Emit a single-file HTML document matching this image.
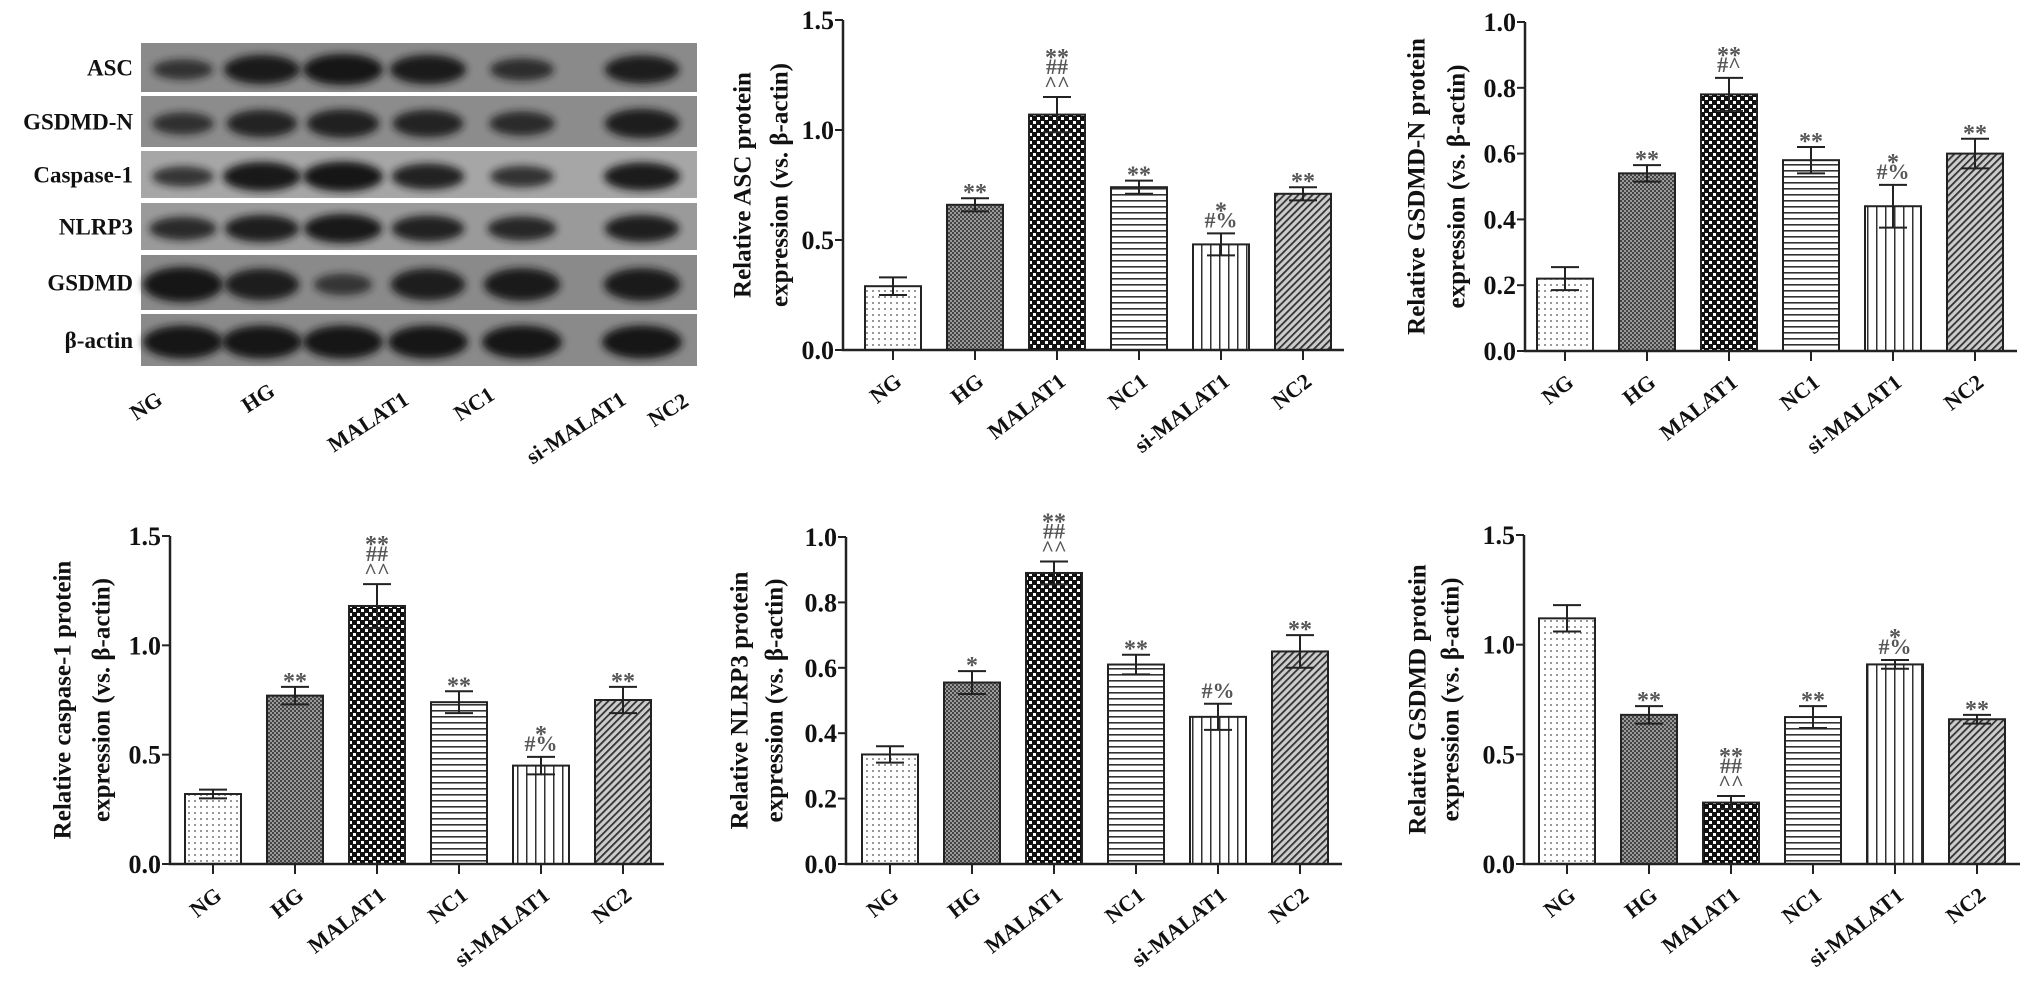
<!DOCTYPE html>
<html><head><meta charset="utf-8"><style>
html,body{margin:0;padding:0;background:#fff;}
svg{display:block;font-family:"Liberation Serif",serif;}
</style></head><body>
<svg id="fig" width="2031" height="989" viewBox="0 0 2031 989" xmlns="http://www.w3.org/2000/svg">
<defs>
<pattern id="pDots" width="6" height="6" patternUnits="userSpaceOnUse"><rect width="6" height="6" fill="#fff"/><circle cx="3" cy="3" r="1" fill="#777"/></pattern>
<pattern id="pFine" width="4" height="4" patternUnits="userSpaceOnUse"><rect width="4" height="4" fill="#999"/><rect width="2" height="2" fill="#444"/><rect x="2" y="2" width="2" height="2" fill="#444"/></pattern>
<pattern id="pCheck" width="8" height="8" patternUnits="userSpaceOnUse"><rect width="8" height="8" fill="#111"/><rect x="1" y="1" width="3" height="3" fill="#fff"/><rect x="5" y="5" width="3" height="3" fill="#fff"/></pattern>
<pattern id="pH" width="6" height="6" patternUnits="userSpaceOnUse"><rect width="6" height="6" fill="#fff"/><rect y="2" width="6" height="1.6" fill="#333"/></pattern>
<pattern id="pV" width="9" height="9" patternUnits="userSpaceOnUse"><rect width="9" height="9" fill="#fff"/><rect x="4" width="1.5" height="9" fill="#333"/></pattern>
<pattern id="pD" width="5" height="5" patternUnits="userSpaceOnUse" patternTransform="rotate(45)"><rect width="5" height="5" fill="#ccc"/><rect width="1.8" height="5" fill="#333"/></pattern>
<filter id="blur" x="-30%" y="-60%" width="160%" height="220%"><feGaussianBlur stdDeviation="4"/></filter>
</defs>
<g id="blot"></g>
<g id="charts"></g>
</svg>
<script>
const NS="http://www.w3.org/2000/svg";
const svg=document.getElementById('fig');
function mk(tag,attrs,parent,text){const e=document.createElementNS(NS,tag);for(const k in attrs)e.setAttribute(k,attrs[k]);if(text!==undefined)e.textContent=text;parent.appendChild(e);return e;}

const categories=["NG","HG","MALAT1","NC1","si-MALAT1","NC2"];
const fills=["url(#pDots)","url(#pFine)","url(#pCheck)","url(#pH)","url(#pV)","url(#pD)"];

const ascValues=[0.29,0.66,1.07,0.74,0.48,0.71];
const ascErrors=[0.04,0.03,0.08,0.03,0.05,0.03];
const ascMarks=[[],["**"],["**","##","^^"],["**"],["*","#%"],["**"]];

const gsdmdnValues=[0.22,0.54,0.78,0.58,0.44,0.60];
const gsdmdnErrors=[0.035,0.025,0.05,0.04,0.065,0.045];
const gsdmdnMarks=[[],["**"],["**","#^"],["**"],["*","#%"],["**"]];

const caspValues=[0.32,0.77,1.18,0.74,0.45,0.75];
const caspErrors=[0.02,0.04,0.10,0.05,0.04,0.06];
const caspMarks=[[],["**"],["**","##","^^"],["**"],["*","#%"],["**"]];

const nlrpValues=[0.335,0.555,0.89,0.61,0.45,0.65];
const nlrpErrors=[0.025,0.035,0.035,0.03,0.04,0.05];
const nlrpMarks=[[],["*"],["**","##","^^"],["**"],["#%"],["**"]];

const gsdmdValues=[1.12,0.68,0.28,0.67,0.91,0.66];
const gsdmdErrors=[0.06,0.04,0.03,0.05,0.02,0.02];
const gsdmdMarks=[[],["**"],["**","##","^^"],["**"],["*","#%"],["**"]];

const ticks15=["0.0","0.5","1.0","1.5"];
const ticks10=["0.0","0.2","0.4","0.6","0.8","1.0"];

const blotRows=["ASC","GSDMD-N","Caspase-1","NLRP3","GSDMD","β-actin"];
const blotIntensity=[
 [0.45,0.9,1.0,0.9,0.55,0.85],
 [0.5,0.75,0.8,0.75,0.6,0.85],
 [0.5,0.95,1.0,0.8,0.55,0.9],
 [0.65,0.85,0.95,0.8,0.7,0.85],
 [1.0,0.85,0.4,0.85,0.9,0.9],
 [1.0,1.0,1.0,1.0,1.0,1.0]
];

/* ---- blot ---- */
const blot=document.getElementById('blot');
const rowsY=[[43,92],[96,147],[151,198],[203,250],[255,310],[314,366]];
const laneX=[183,262,343,428,522,642];
const bgs=["#8a8a8a","#8c8c8c","#a6a6a6","#9a9a9a","#8a8a8a","#8a8a8a"];
mk('rect',{x:141,y:42,width:556,height:325,fill:'#fff'},blot);
blotRows.forEach((name,r)=>{
  const [y1,y2]=rowsY[r];
  const g=mk('g',{},blot);
  
  
  mk('rect',{x:141,y:y1,width:556,height:y2-y1,fill:bgs[r]},g);
  const cy=(y1+y2)/2;
  blotIntensity[r].forEach((v,i)=>{
    const band=mk('ellipse',{cx:laneX[i],cy:cy+2,rx:22+v*18,ry:(y2-y1)*(0.12+v*0.2),fill:'#141414',opacity:0.55+v*0.45,filter:'url(#blur)'},g);
    
    
  });
  const t=mk('text',{x:133,y:cy+8,'text-anchor':'end','font-size':23,'font-weight':'bold',fill:'#111'},blot,name);
  
  
});
const blotLabelPos=[[150,412],[262,404],[372,428],[478,410],[580,434],[672,416]];
categories.forEach((c,i)=>{
  const [x,y]=blotLabelPos[i];
  const t=mk('text',{x:x,y:y,'text-anchor':'middle','font-size':22,'font-weight':'bold',fill:'#111',transform:`rotate(-33 ${x} ${y})`},blot,c);
  
  
});

/* ---- charts ---- */
function chart(o){
  const g=mk('g',{},document.getElementById('charts'));
  
  
  const yS=v=>o.y0-(v/o.max)*(o.y0-o.top);
  const xS=i=>o.first+i*82;
  const mid=(o.y0+o.top)/2;
  const t1=mk('text',{x:o.tx1,y:mid,'text-anchor':'middle','font-size':25,'font-weight':'bold',fill:'#111',transform:`rotate(-90 ${o.tx1} ${mid})`,'dominant-baseline':'middle'},g,o.title1);
  
  
  const t2=mk('text',{x:o.tx2,y:mid,'text-anchor':'middle','font-size':25,'font-weight':'bold',fill:'#111',transform:`rotate(-90 ${o.tx2} ${mid})`,'dominant-baseline':'middle'},g,o.title2);
  
  
  o.values.forEach((v,i)=>{
    const cx=xS(i);
    const b=mk('rect',{x:cx-28,y:yS(v),width:56,height:o.y0-yS(v),fill:fills[i],stroke:'#222','stroke-width':2},g);
    
    
    const e=o.errors[i];
    const eb=mk('path',{d:`M${cx} ${yS(v-e)}V${yS(v+e)}M${cx-14} ${yS(v+e)}H${cx+14}M${cx-14} ${yS(v-e)}H${cx+14}`,stroke:'#222','stroke-width':2,fill:'none'},g);
    
    
    const ms=o.marks[i];
    ms.forEach((m,k)=>{
      const yy=yS(v+e)-6-(ms.length-1-k)*17;
      const a=mk('text',{x:cx,y:yy+(m.indexOf('*')>=0?8:0),'text-anchor':'middle','font-size':m.indexOf('*')>=0?24:22,'font-weight':'bold',fill:'#555'},g,m);
      
      
    });
    const tk=mk('line',{x1:cx,x2:cx,y1:o.y0,y2:o.y0+10,stroke:'#222','stroke-width':2},g);
    
    
    const lx=cx+10,ly=o.y0+34;
    const lb=mk('text',{x:lx,y:ly,'text-anchor':'end','font-size':22,'font-weight':'bold',fill:'#111',transform:`rotate(-38 ${lx} ${ly})`},g,categories[i]);
    
    
  });
  const ax=mk('path',{d:`M${o.ax} ${o.top}V${o.y0}H${o.xEnd}`,stroke:'#222','stroke-width':2.5,fill:'none'},g);
  
  
  o.ticks.forEach(tl=>{
    const v=parseFloat(tl);
    const y=yS(v);
    const tk=mk('line',{x1:o.ax-8,x2:o.ax,y1:y,y2:y,stroke:'#222','stroke-width':2},g);
    
    
    const lb=mk('text',{x:o.ax-9,y:y+9,'text-anchor':'end','font-size':26,'font-weight':'bold',fill:'#111'},g,tl);
    
    
  });
}
chart({name:'asc-chart',values:ascValues,errors:ascErrors,marks:ascMarks,ticks:ticks15,max:1.5,ax:843,y0:350,top:20,first:893,xEnd:1344,tx1:745,tx2:782,title1:'Relative ASC protein',title2:'expression (vs. β-actin)'});
chart({name:'gsdmd-n-chart',values:gsdmdnValues,errors:gsdmdnErrors,marks:gsdmdnMarks,ticks:ticks10,max:1.0,ax:1525,y0:351,top:22,first:1565,xEnd:2017,tx1:1419,tx2:1459,title1:'Relative GSDMD-N protein',title2:'expression (vs. β-actin)'});
chart({name:'caspase-1-chart',values:caspValues,errors:caspErrors,marks:caspMarks,ticks:ticks15,max:1.5,ax:170,y0:864,top:536,first:213,xEnd:664,tx1:65,tx2:104,title1:'Relative caspase-1 protein',title2:'expression (vs. β-actin)'});
chart({name:'nlrp3-chart',values:nlrpValues,errors:nlrpErrors,marks:nlrpMarks,ticks:ticks10,max:1.0,ax:846,y0:864,top:537,first:890,xEnd:1342,tx1:742,tx2:777,title1:'Relative NLRP3 protein',title2:'expression (vs. β-actin)'});
chart({name:'gsdmd-chart',values:gsdmdValues,errors:gsdmdErrors,marks:gsdmdMarks,ticks:ticks15,max:1.5,ax:1524,y0:864,top:535,first:1567,xEnd:2020,tx1:1420,tx2:1453,title1:'Relative GSDMD protein',title2:'expression (vs. β-actin)'});
</script>
</body></html>
